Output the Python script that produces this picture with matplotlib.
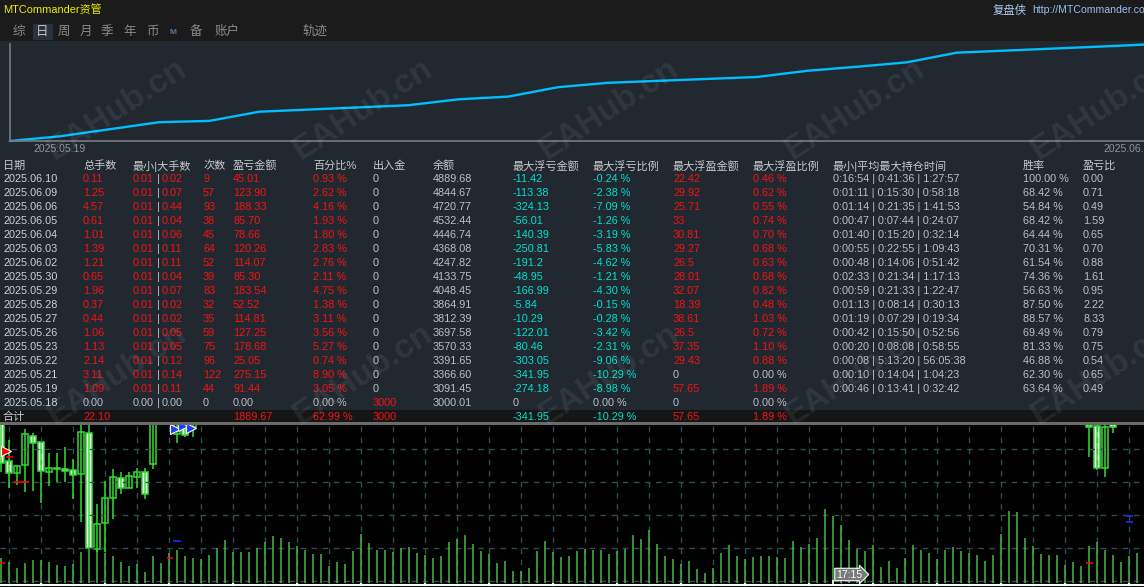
import datetime as dt
import numpy as np
import matplotlib
matplotlib.use("Agg")
import matplotlib.pyplot as plt
from matplotlib.patches import Rectangle

plt.rcParams['font.family'] = ['Liberation Sans', 'Noto Sans CJK SC', 'DejaVu Sans']

W, H = 1144, 587

# ---------------- table data ----------------
dates = ['2025.06.10', '2025.06.09', '2025.06.06', '2025.06.05', '2025.06.04', '2025.06.03',
         '2025.06.02', '2025.05.30', '2025.05.29', '2025.05.28', '2025.05.27', '2025.05.26',
         '2025.05.23', '2025.05.22', '2025.05.21', '2025.05.19', '2025.05.18']
lots = [0.11, 1.25, 4.57, 0.61, 1.01, 1.39, 1.21, 0.65, 1.96, 0.37, 0.44, 1.06, 1.13, 2.14, 3.11, 1.09, 0.00]
min_lot = [0.01] * 16 + [0.00]
max_lot = [0.02, 0.07, 0.44, 0.04, 0.06, 0.11, 0.11, 0.04, 0.07, 0.02, 0.02, 0.05, 0.05, 0.12, 0.14, 0.11, 0.00]
trades = [9, 57, 93, 38, 45, 64, 52, 39, 83, 32, 35, 59, 75, 96, 122, 44, 0]
profit = [45.01, 123.90, 188.33, 85.70, 78.66, 120.26, 114.07, 85.30, 183.54, 52.52, 114.81, 127.25,
          178.68, 25.05, 275.15, 91.44, 0.00]
profit_pct = [0.93, 2.62, 4.16, 1.93, 1.80, 2.83, 2.76, 2.11, 4.75, 1.38, 3.11, 3.56, 5.27, 0.74, 8.90, 3.05, 0.00]
deposit = [0] * 16 + [3000]
balance = [4889.68, 4844.67, 4720.77, 4532.44, 4446.74, 4368.08, 4247.82, 4133.75, 4048.45, 3864.91,
           3812.39, 3697.58, 3570.33, 3391.65, 3366.60, 3091.45, 3000.01]
max_dd = [-11.42, -113.38, -324.13, -56.01, -140.39, -250.81, -191.2, -48.95, -166.99, -5.84, -10.29,
          -122.01, -80.46, -303.05, -341.95, -274.18, 0]
max_dd_pct = [-0.24, -2.38, -7.09, -1.26, -3.19, -5.83, -4.62, -1.21, -4.30, -0.15, -0.28, -3.42, -2.31,
              -9.06, -10.29, -8.98, 0.00]
max_fp = [22.42, 29.92, 25.71, 33, 30.81, 29.27, 26.5, 28.01, 32.07, 18.39, 38.61, 26.5, 37.35, 29.43, 0, 57.65, 0]
max_fp_pct = [0.46, 0.62, 0.55, 0.74, 0.70, 0.68, 0.63, 0.68, 0.82, 0.48, 1.03, 0.72, 1.10, 0.88, 0.00, 1.89, 0.00]
hold_min = ['0:16:54', '0:01:11', '0:01:14', '0:00:47', '0:01:40', '0:00:55', '0:00:48', '0:02:33',
            '0:00:59', '0:01:13', '0:01:19', '0:00:42', '0:00:20', '0:00:08', '0:00:10', '0:00:46']
hold_avg = ['0:41:36', '0:15:30', '0:21:35', '0:07:44', '0:15:20', '0:22:55', '0:14:06', '0:21:34',
            '0:21:33', '0:08:14', '0:07:29', '0:15:50', '0:08:08', '5:13:20', '0:14:04', '0:13:41']
hold_max = ['1:27:57', '0:58:18', '1:41:53', '0:24:07', '0:32:14', '1:09:43', '0:51:42', '1:17:13',
            '1:22:47', '0:30:13', '0:19:34', '0:52:56', '0:58:55', '56:05:38', '1:04:23', '0:32:42']
win_rate = [100.00, 68.42, 54.84, 68.42, 64.44, 70.31, 61.54, 74.36, 56.63, 87.50, 88.57, 69.49,
            81.33, 46.88, 62.30, 63.64]
pl_ratio = [0.00, 0.71, 0.49, 1.59, 0.65, 0.70, 0.88, 1.61, 0.95, 2.22, 8.33, 0.79, 0.75, 0.54, 0.65, 0.49]

total_lots = 22.10
total_profit = 1889.67
total_pct = 62.99
total_deposit = 3000
total_dd = -341.95
total_dd_pct = -10.29
total_fp = 57.65
total_fp_pct = 1.89

headers = ['日期', '总手数', '最小|大手数', '次数', '盈亏金额', '百分比%', '出入金', '余额',
           '最大浮亏金额', '最大浮亏比例', '最大浮盈金额', '最大浮盈比例', '最小|平均最大持仓时间', '胜率', '盈亏比']
tabs = ['综', '日', '周', '月', '季', '年', '币', 'M', '备', '账户', '轨迹']

# ---------------- price chart data (pixel-scale units) ----------------
volume = [25, 21, 15.3, 20.3, 23, 23.7, 21, 18, 17.3, 19, 31, 34.7, 33, 30.3, 27.3, 21, 17.7, 19, 11.3, 27,
          20.3, 30.3, 33, 27, 25.3, 24.7, 28, 35.7, 43, 31, 31, 31, 35, 41.3, 47, 45.7, 41, 37.7, 33, 29,
          29, 17.3, 21, 19, 32, 49.7, 40, 33.3, 33, 31, 35.3, 36.3, 30.3, 28.3, 25.3, 27.3, 41.3, 44.3, 48.3, 39.3,
          32.3, 29.3, 20.3, 22.3, 12.3, 12.7, 15.3, 32.3, 42.3, 31.3, 26.3, 27.3, 32.3, 34.3, 33.3, 33.3, 29.3, 32.3, 34.3, 48.3,
          44.3, 53.3, 39.3, 27.3, 24.3, 19.3, 22.3, 14.3, 10.3, 15.3, 30.3, 38.3, 27.3, 24.5, 26.3, 27.3, 27.3, 26.3, 25.3, 42.3,
          36.3, 39.3, 45.3, 74.3, 67.3, 58.3, 43.3, 34.3, 32.3, 38.3, 16.3, 22.3, 15.3, 25.3, 38.3, 33.3, 30.3, 24.6, 33.3, 36.3,
          32.3, 30.6, 28.3, 22.3, 28.3, 49.3, 72.3, 71.3, 45.3, 37.3, 29.3, 28.3, 28.3, 18.6, 21.3, 17.3, 37.3, 41.3, 33.3, 28.3,
          21.3, 27.3, 30.3]
c_idx = [0, 1, 2, 3, 4, 5, 6, 7, 8, 9, 10, 11, 12, 13, 14, 15, 16, 17, 18, 19, 22, 23, 24, 136, 137, 138, 139]
c_open = [172, 125.7, 113.7, 121.7, 151.3, 144.7, 114.7, 118.3, 117.7, 116.7, 112.7, 153.7, 37.7, 63.7, 88.7,
          108.7, 98.7, 110.3, 114.7, 122.7, 153, 168, 160, 162, 161, 119.3, 163]
c_high = [180, 147, 121.3, 157.7, 154.3, 144.7, 133.7, 133.7, 139.7, 127.7, 170, 170, 83, 106, 118,
          115, 115, 118.7, 118.7, 185, 170, 172, 172, 170, 168, 165, 170]
c_low = [115.3, 98.7, 102, 95.3, 96.3, 84.3, 101.3, 105, 105, 87.7, 65.3, 38.7, 35.3, 35.3, 68.3,
         93, 98.7, 98.7, 88, 118, 143.7, 150, 150.3, 129.7, 117, 110.3, 154.3]
c_close = [124.3, 113.7, 121.3, 152.7, 143.7, 115.7, 118.7, 118.3, 116.3, 111.7, 154.7, 38.7, 62.7, 88.7, 109.7,
           98.7, 111, 114.7, 93, 175, 165, 152, 165, 159.7, 119.3, 159.7, 160.3]
red_lv = [(6, 13, 130), (14, 29, 105), (167, 173, 29), (0, 5, 23.7), (1086, 1093, 23.7)]
blue_lv = [(173, 181, 45.7), (1126, 1133, 71.3), (1126, 1133, 64.7)]
buy_arrows = [(175, 158), (183, 161), (191, 159)]
sell_arrows = [(6, 136)]

# ---------------- colours ----------------
PANEL = '#222830'
TOPBAR = '#1b1b1b'
HDR = '#c6c9cc'
GRAY = '#b8c0c8'
RED = '#f21414'
CYAN = '#00e0d0'

fig = plt.figure(figsize=(W / 100, H / 100), dpi=100)
fig.patch.set_facecolor(PANEL)


def fx(x):
    return x / W


def fy(y):
    return 1 - y / H


def put(x, y, s, c, size=7.8, **kw):
    fig.text(fx(x), fy(y), s, color=c, fontsize=size, ha=kw.pop('ha', 'left'), va='center', zorder=3, **kw)


def box(x0, y0, x1, y1, c):
    fig.add_artist(Rectangle((fx(x0), fy(y1)), fx(x1) - fx(x0), fy(y0) - fy(y1),
                             transform=fig.transFigure, facecolor=c, edgecolor='none', zorder=1))


# top bar
box(0, 0, W, 41, TOPBAR)
put(3, 10, 'MTCommander资管', '#ecec00', size=7.9)
put(993, 10, '复盘侠', '#a8ccf4', size=8.2)
put(1032, 10, 'http://MTCommander.com', '#98bff0', size=7.6)
tab_x = [13, 36, 58, 80, 101, 123, 146, 170, 190, 215, 302]
box(33, 24, 53, 40, '#2a323c')
for t, x in zip(tabs, tab_x):
    if t == 'M':
        put(x, 32, t, '#5a7896', size=6, weight='bold')
    else:
        put(x, 32, t, '#c8c8c8' if t == '日' else '#8a8a8a', size=9)

# equity curve
d0 = dt.datetime.strptime(dates[-1], '%Y.%m.%d')
eq_days = [(dt.datetime.strptime(d, '%Y.%m.%d') - d0).days for d in dates[::-1]]
eq_bal = balance[::-1]
ax = fig.add_axes([fx(10), fy(141), (1156 - 10) / W, (141 - 44) / H])
ax.set_facecolor('none')
ax.plot(eq_days, eq_bal, color='#00bfff', lw=1.7, clip_on=False)
ax.set_xlim(eq_days[0], eq_days[-1])
ax.set_ylim(3000, 4890)
ax.set_xticks([eq_days[1], eq_days[-1]], [dates[-2], dates[0]])
ax.set_yticks([])
ax.tick_params(axis='x', length=0, pad=2, labelsize=7.5, labelcolor='#8c959e')
ax.get_xticklabels()[1].set_ha('right')
for s in ['top', 'right']:
    ax.spines[s].set_visible(False)
for s in ['left', 'bottom']:
    ax.spines[s].set_color('#7a7a7a')
    ax.spines[s].set_linewidth(1.2)

# table
col_x = [3, 83, 133, 203, 233, 313, 373, 433, 513, 593, 673, 753, 833, 1023, 1083]
for h, x in zip(headers, col_x):
    put(x, 166, h, HDR, size=8)

row_h = 13.97
for i, d in enumerate(dates):
    y = 179 + i * row_h
    put(col_x[0], y, d, '#c8d0d8')
    put(col_x[1], y, f'{lots[i]:.2f}', RED if lots[i] else GRAY)
    lc = RED if max_lot[i] else GRAY
    put(col_x[2], y, f'{min_lot[i]:.2f}', lc)
    put(157, y, '|', GRAY)
    put(162, y, f'{max_lot[i]:.2f}', lc)
    put(col_x[3], y, f'{trades[i]}', RED if trades[i] else GRAY)
    put(col_x[4], y, f'{profit[i]:.2f}', RED if profit[i] else GRAY)
    put(col_x[5], y, f'{profit_pct[i]:.2f} %', RED if profit_pct[i] else GRAY)
    put(col_x[6], y, f'{deposit[i]}', RED if deposit[i] else GRAY)
    put(col_x[7], y, f'{balance[i]:.2f}', GRAY)
    put(col_x[8], y, f'{max_dd[i]:g}', CYAN if max_dd[i] else GRAY)
    put(col_x[9], y, f'{max_dd_pct[i]:.2f} %', CYAN if max_dd_pct[i] else GRAY)
    put(col_x[10], y, f'{max_fp[i]:g}', RED if max_fp[i] else GRAY)
    put(col_x[11], y, f'{max_fp_pct[i]:.2f} %', RED if max_fp_pct[i] else GRAY)
    if i < len(hold_min):
        put(col_x[12], y, f'{hold_min[i]} | {hold_avg[i]} | {hold_max[i]}', GRAY)
        put(col_x[13], y, f'{win_rate[i]:.2f} %', GRAY)
        put(col_x[14], y, f'{pl_ratio[i]:.2f}', GRAY)

# total row
box(0, 410, W, 422, '#161616')
box(0, 422, W, 424.5, '#6a6a6a')
ty = 417
put(col_x[0], ty, '合计', HDR, size=8)
put(col_x[1], ty, f'{total_lots:.2f}', RED)
put(col_x[4], ty, f'{total_profit:.2f}', RED)
put(col_x[5], ty, f'{total_pct:.2f} %', RED)
put(col_x[6], ty, f'{total_deposit}', RED)
put(col_x[8], ty, f'{total_dd:g}', CYAN)
put(col_x[9], ty, f'{total_dd_pct:.2f} %', CYAN)
put(col_x[10], ty, f'{total_fp:g}', RED)
put(col_x[11], ty, f'{total_fp_pct:.2f} %', RED)

# price chart
axc = fig.add_axes([0, 0, 1, (H - 424.5) / H])
axc.set_facecolor('black')
axc.set_xlim(0, W)
axc.set_ylim(0, H - 424.5)
axc.set_xticks([])
axc.set_yticks([])
for s in axc.spines.values():
    s.set_visible(False)
grid_c = '#2f4f4f'
axc.hlines([138, 105, 72, 39, 6], 0, W, colors=grid_c, linestyles=(0, (4, 4)), lw=1)
axc.vlines(np.arange(9, W, 32), 0, 170, colors=grid_c, linestyles=(0, (4, 4)), lw=1)

vx = 1 + 8 * np.arange(len(volume))
axc.vlines(vx, 3.7, 3.7 + np.array(volume), colors='#48b848', lw=1.1)

for k, o, hi, lo, c in zip(c_idx, c_open, c_high, c_low, c_close):
    x = 1 + 8 * k
    axc.vlines(x, lo, hi, colors='#33dd33', lw=1.1)
    axc.add_patch(Rectangle((x - 3, min(o, c)), 6, max(abs(c - o), 0.8),
                            facecolor='white' if c < o else 'black', edgecolor='#33dd33', lw=1.1))

for x0, x1, v in red_lv:
    axc.hlines(v, x0, x1, colors='red', lw=1.2)
for x0, x1, v in blue_lv:
    axc.hlines(v, x0, x1, colors='#1e2cff', lw=1.2)
for x, v in buy_arrows:
    axc.plot(x, v, marker='>', ms=7, color='#1e3cff', mec='white', mew=0.8)
for x, v in sell_arrows:
    axc.plot(x, v, marker='>', ms=7, color='red', mec='white', mew=0.8)

axc.axhline(2, color='white', lw=1.5)
axc.vlines(np.arange(41, W, 64), 2, 4.5, colors='white', lw=1.5)
axc.vlines(833, 2, 7, colors='white', lw=1.2)
axc.text(836, 12.5, '17:15', color='white', fontsize=7.5, ha='left', va='center',
         bbox=dict(boxstyle='rarrow,pad=0.12', fc='#7a7a7a', ec='white', lw=0.8))

# watermarks
for yb in [160, 425, 690]:
    for xs in np.arange(55 - 246, W, 246):
        fig.text(fx(xs), fy(yb), 'EAHub.cn', rotation=33, rotation_mode='anchor', ha='left',
                 va='baseline', fontsize=24, weight='bold', color='white', alpha=0.07,
                 family='Liberation Sans', zorder=5)

fig.savefig('out.png', dpi=100, facecolor=fig.get_facecolor())
